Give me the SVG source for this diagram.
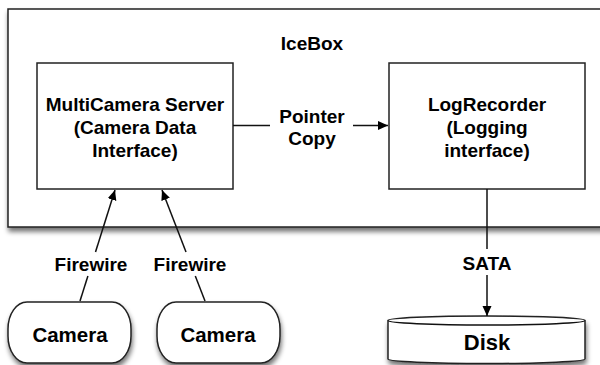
<svg xmlns="http://www.w3.org/2000/svg" width="600" height="365" viewBox="0 0 600 365">
  <defs>
    <filter id="shadow" x="-10%" y="-10%" width="125%" height="130%">
      <feGaussianBlur in="SourceAlpha" stdDeviation="2.5"/>
      <feOffset dx="1" dy="4" result="blur"/>
      <feComponentTransfer><feFuncA type="linear" slope="0.55"/></feComponentTransfer>
      <feMerge><feMergeNode/><feMergeNode in="SourceGraphic"/></feMerge>
    </filter>
    <marker id="arrow" viewBox="0 0 10 10" refX="10" refY="5" markerWidth="10" markerHeight="10" markerUnits="userSpaceOnUse" orient="auto">
      <path d="M0,0.5 L10,5 L0,9.5 Z" fill="#000"/>
    </marker>
  </defs>
  <style>
    text { font-family: "Liberation Sans", Arial, Helvetica, sans-serif; font-weight: bold; fill: #000; text-anchor: middle; }
    .lbl { font-size: 19px; }
    .big { font-size: 20.5px; }
    .box { fill: #fff; stroke: #222; stroke-width: 1.5; }
    .edge { fill: none; stroke: #111; stroke-width: 1.5; }
  </style>
  <rect width="600" height="365" fill="#fff"/>

  <g id="icebox">
    <rect class="box" x="8" y="9" width="596" height="218" filter="url(#shadow)"/>
    <text class="lbl" x="312" y="50">IceBox</text>
  </g>

  <g id="multicamera-server">
    <rect class="box" x="37" y="63" width="196" height="126"/>
    <text class="lbl" x="135" y="111">MultiCamera Server</text>
    <text class="lbl" x="135" y="134">(Camera Data</text>
    <text class="lbl" x="135" y="157">Interface)</text>
  </g>

  <g id="logrecorder">
    <rect class="box" x="389" y="63" width="196" height="126"/>
    <text class="lbl" x="487" y="111">LogRecorder</text>
    <text class="lbl" x="487" y="134">(Logging</text>
    <text class="lbl" x="487" y="157">interface)</text>
  </g>

  <g id="camera-1">
    <rect class="box" x="8" y="302" width="123" height="61" rx="19" ry="27" filter="url(#shadow)"/>
    <text class="big" x="70" y="342">Camera</text>
  </g>

  <g id="camera-2">
    <rect class="box" x="157" y="302" width="123" height="61" rx="19" ry="27" filter="url(#shadow)"/>
    <text class="big" x="218" y="342">Camera</text>
  </g>

  <g id="disk">
    <path class="box" d="M388,320.5 L388,359 A98.5,4.5 0 0 0 585,359 L585,320.5 A98.5,4.5 0 0 0 388,320.5 Z" filter="url(#shadow)"/>
    <path class="edge" d="M388,320.5 A98.5,4.5 0 0 0 585,320.5"/>
    <text x="487" y="350" style="font-size:22px">Disk</text>
  </g>

  <g id="connectors">
    <!-- Pointer Copy -->
    <path class="edge" d="M233,125.5 L270,125.5"/>
    <path class="edge" d="M353,125.5 L388,125.5" marker-end="url(#arrow)"/>
    <text class="lbl" x="312" y="123">Pointer</text>
    <text class="lbl" x="312" y="145">Copy</text>

    <!-- Firewire from camera 1 -->
    <path class="edge" d="M80,301 L87.9,276"/>
    <path class="edge" d="M95.5,252 L115,190" marker-end="url(#arrow)"/>
    <text class="lbl" x="91" y="271">Firewire</text>

    <!-- Firewire from camera 2 -->
    <path class="edge" d="M205,301 L195.3,276"/>
    <path class="edge" d="M186,252 L162,190" marker-end="url(#arrow)"/>
    <text class="lbl" x="190" y="271">Firewire</text>

    <!-- SATA -->
    <path class="edge" d="M487,189 L487,249"/>
    <path class="edge" d="M487,275 L487,316" marker-end="url(#arrow)"/>
    <text class="lbl" x="487" y="270">SATA</text>
  </g>
</svg>
